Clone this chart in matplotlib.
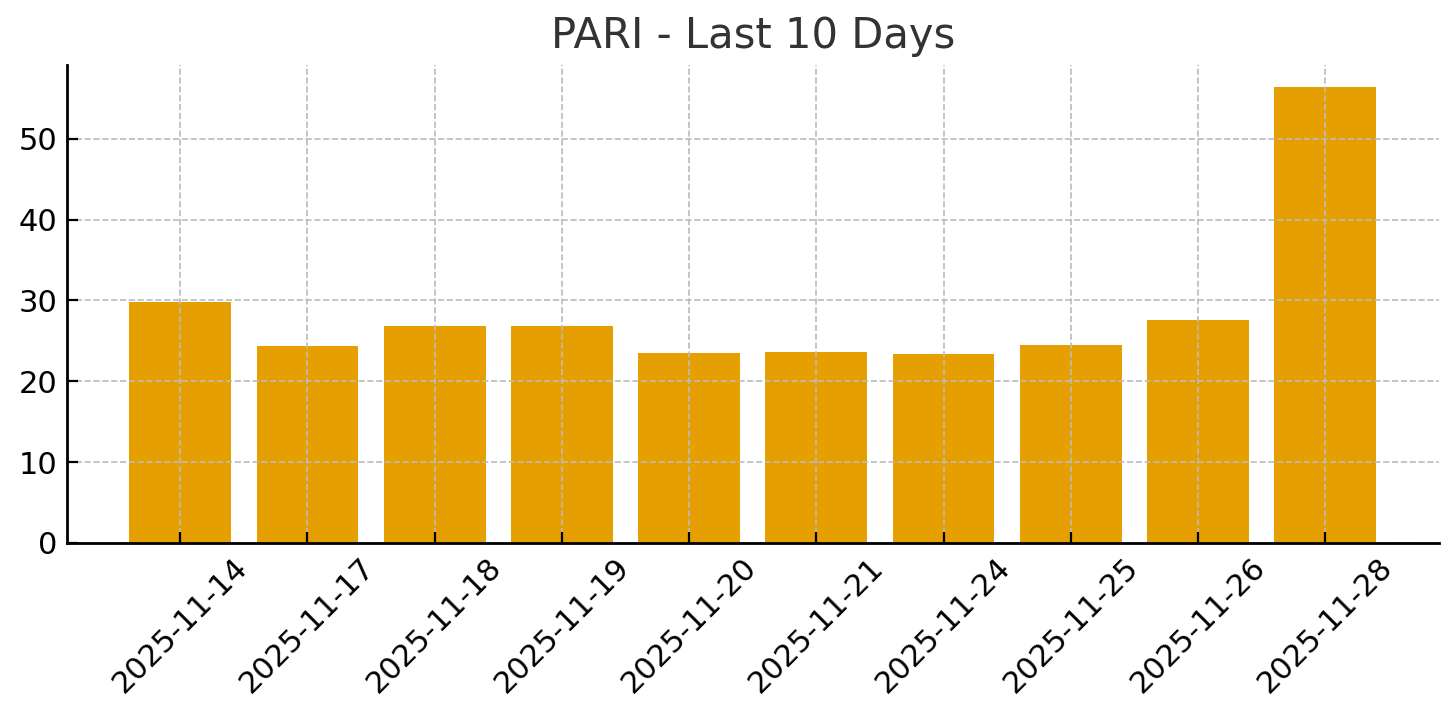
import matplotlib
matplotlib.use("Agg")
import matplotlib.pyplot as plt

dates = ["2025-11-14", "2025-11-17", "2025-11-18", "2025-11-19", "2025-11-20",
         "2025-11-21", "2025-11-24", "2025-11-25", "2025-11-26", "2025-11-28"]
values = [29.8, 24.4, 26.8, 26.8, 23.5, 23.6, 23.4, 24.5, 27.55, 56.35]
title = "PARI - Last 10 Days"

plt.rcParams['font.family'] = ['DejaVu Sans']
fig, ax = plt.subplots(figsize=(7.28, 3.595), dpi=200)
ax.bar(dates, values, color="#E69F00", width=0.8, zorder=1)
ax.set_title(title, fontsize=15, color="#333333")
ax.grid(True, linestyle="--", color="#bbbbbb", linewidth=0.6, zorder=2)
ax.set_axisbelow(False)
for s in ["top", "right"]:
    ax.spines[s].set_visible(False)
for s in ["left", "bottom"]:
    ax.spines[s].set_linewidth(1.0)
    ax.spines[s].set_zorder(5)
ax.tick_params(axis="both", direction="in", labelsize=11, length=4)
plt.setp(ax.get_xticklabels(), rotation=45)
fig.subplots_adjust(left=0.046, right=0.988, top=0.91, bottom=0.245)
fig.savefig("out.png", dpi=200)
